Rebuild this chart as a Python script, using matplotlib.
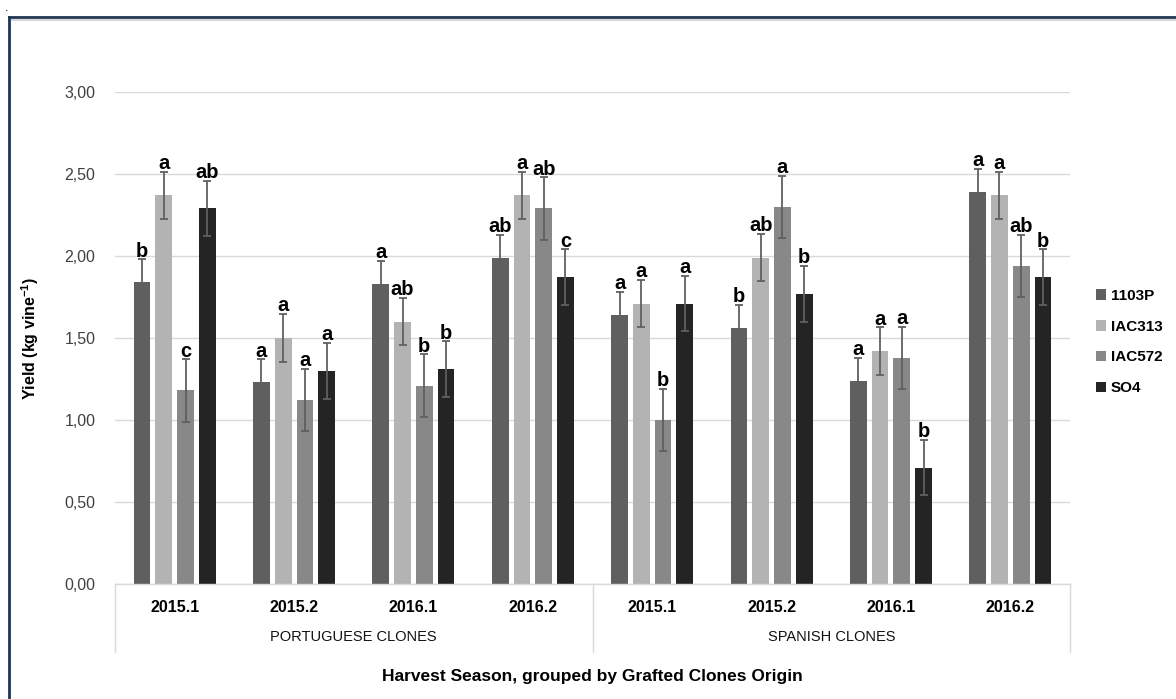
import numpy as np
import matplotlib
matplotlib.use("Agg")
import matplotlib.pyplot as plt
from matplotlib.lines import Line2D
from matplotlib.patches import Patch
from matplotlib.transforms import blended_transform_factory

plt.rcParams['font.family'] = ['Liberation Sans', 'DejaVu Sans']
plt.rcParams['mathtext.fontset'] = 'custom'
plt.rcParams['mathtext.bf'] = 'Liberation Sans:bold'
plt.rcParams['mathtext.rm'] = 'Liberation Sans:bold'

# harvest seasons, grouped by clone origin
seasons = ['2015.1', '2015.2', '2016.1', '2016.2', '2015.1', '2015.2', '2016.1', '2016.2']
origins = ['PORTUGUESE CLONES', 'SPANISH CLONES']
rootstocks = ['1103P', 'IAC313', 'IAC572', 'SO4']

# mean yield (kg/vine) per rootstock
yield_1103p = [1.84, 1.23, 1.83, 1.99, 1.64, 1.56, 1.24, 2.39]
yield_iac313 = [2.37, 1.50, 1.60, 2.37, 1.71, 1.99, 1.42, 2.37]
yield_iac572 = [1.18, 1.12, 1.21, 2.29, 1.00, 2.30, 1.38, 1.94]
yield_so4 = [2.29, 1.30, 1.31, 1.87, 1.71, 1.77, 0.71, 1.87]

# error bar half-widths
err_1103p = [0.14] * 8
err_iac313 = [0.145] * 8
err_iac572 = [0.19] * 8
err_so4 = [0.17] * 8

# significance letters
let_1103p = ['b', 'a', 'a', 'ab', 'a', 'b', 'a', 'a']
let_iac313 = ['a', 'a', 'ab', 'a', 'a', 'ab', 'a', 'a']
let_iac572 = ['c', 'a', 'b', 'ab', 'b', 'a', 'a', 'ab']
let_so4 = ['ab', 'a', 'b', 'c', 'a', 'b', 'b', 'b']

yields = [yield_1103p, yield_iac313, yield_iac572, yield_so4]
errs = [err_1103p, err_iac313, err_iac572, err_so4]
letters = [let_1103p, let_iac313, let_iac572, let_so4]
colors = ['#5f5f5f', '#b3b3b3', '#888888', '#242424']

fig = plt.figure(figsize=(11.76, 6.99), dpi=100)
ax = fig.add_axes([115 / 1176, 1 - 584 / 699, 955 / 1176, 492 / 699])

x = np.arange(len(seasons))
pitch = 0.182
width = 0.14
for i in range(4):
    xs = x + (i - 1.5) * pitch
    ax.bar(xs, yields[i], width, color=colors[i], zorder=2)
    ax.errorbar(xs, yields[i], yerr=errs[i], fmt='none', ecolor='#606060',
                elinewidth=1.3, capsize=3, capthick=1.3, zorder=3)
    for xi, yi, ei, lab in zip(xs, yields[i], errs[i], letters[i]):
        ax.annotate(lab, (xi, yi + ei), xytext=(0, 2), textcoords='offset points',
                    ha='center', va='baseline', fontsize=14.5, fontweight='bold',
                    color='black')

ax.set_xlim(-0.5, 7.5)
ax.set_ylim(0, 3.0)
ax.set_yticks(np.arange(0, 3.01, 0.5))
ax.set_yticklabels([f'{v:.2f}'.replace('.', ',') for v in np.arange(0, 3.01, 0.5)],
                   fontsize=11.5, color='#404040')
ax.tick_params(axis='y', length=0, pad=14)
ax.set_xticks([])
ax.yaxis.grid(True, color='#d9d9d9', linewidth=1, zorder=0)
for s in ['top', 'right', 'left']:
    ax.spines[s].set_visible(False)
ax.spines['bottom'].set_color('#d9d9d9')
ax.spines['bottom'].set_linewidth(1)

# two-level category axis below the bars
tr = blended_transform_factory(ax.transData, fig.transFigure)
for xi, s in zip(x, seasons):
    ax.text(xi, 1 - 607 / 699, s, transform=tr, ha='center', va='center',
            fontsize=11.5, fontweight='bold')
for k, o in enumerate(origins):
    ax.text(1.5 + 4 * k, 1 - 637 / 699, o, transform=tr, ha='center', va='center',
            fontsize=10.5, color='#111111')
for xd in [-0.5, 3.5, 7.5]:
    ax.add_line(Line2D([xd, xd], [1 - 584 / 699, 1 - 652 / 699], transform=tr,
                       color='#d9d9d9', linewidth=1, clip_on=False))

fig.text(592 / 1176, 1 - 677 / 699, 'Harvest Season, grouped by Grafted Clones Origin',
         ha='center', va='center', fontsize=12.5, fontweight='bold')
fig.text(30 / 1176, 1 - 338 / 699, r'Yield (kg vine$^{\mathbf{-1}}$)', rotation=90,
         ha='center', va='center', fontsize=11.5, fontweight='bold')

handles = [Patch(facecolor=c, edgecolor='none') for c in colors]
fig.legend(handles, rootstocks, loc='center left', bbox_to_anchor=(1082 / 1176, 1 - 342 / 699),
           frameon=False, handlelength=0.7, handleheight=0.7, handletextpad=0.3,
           labelspacing=1.1, prop={'weight': 'bold', 'size': 11})

# outer frame (top and left edges)
fig.add_artist(Line2D([8.5 / 1176, 1], [1 - 17 / 699, 1 - 17 / 699], color='#1f3550',
                      linewidth=2, transform=fig.transFigure))
fig.add_artist(Line2D([8.5 / 1176, 1], [1 - 19.5 / 699, 1 - 19.5 / 699], color='#d5d8dc',
                      linewidth=1.5, transform=fig.transFigure))
fig.add_artist(Line2D([8.5 / 1176, 8.5 / 1176], [0, 1 - 17 / 699], color='#1f3550',
                      linewidth=2, transform=fig.transFigure))
fig.text(5 / 1176, 1 - 8 / 699, '.', ha='left', va='center', fontsize=9)

fig.savefig('out.png', dpi=100)
